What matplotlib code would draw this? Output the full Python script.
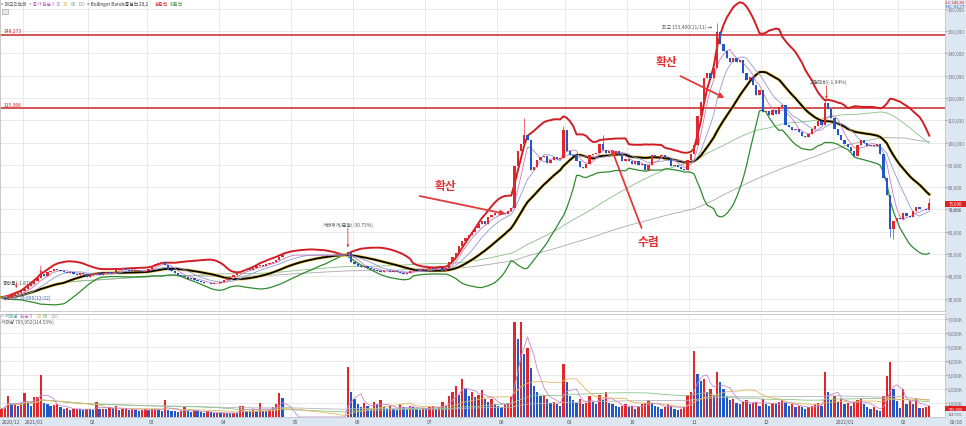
import numpy as np
import pandas as pd
import matplotlib
matplotlib.use('Agg')
import matplotlib.pyplot as plt
from matplotlib.patches import Rectangle

plt.rcParams['font.family'] = ['Noto Sans CJK KR', 'DejaVu Sans']

# ---- values (daily, 2020/12/21 .. 2022/02/16) ----
month_labels = ['2020/12', '2021/01', '02', '03', '04', '05', '06', '07',
                '08', '09', '10', '11', '12', '2022/01', '02']
month_days = [7, 20, 18, 22, 22, 19, 22, 22, 21, 19, 19, 22, 22, 20, 10]

close_2012 = [30600, 30000, 30900, 31500, 32000, 32600, 33200]
close_2101 = [34500, 35800, 36500, 38000, 39200, 41000, 40200, 41800, 42400, 43500,
              43000, 42300, 42000, 41500, 41800, 41200, 40800, 41300, 41000, 39700]
close_2102 = [40500, 41000, 41300, 40800, 41500, 41800, 41500, 42000, 42800, 43300,
              43600, 43000, 42600, 42400, 42800, 42200, 42000, 42500]
close_2103 = [43500, 44800, 45500, 45800, 46400, 45000, 43000, 42400, 41500, 40500, 40000,
              39500, 38800, 39200, 38500, 38000, 37500, 37000, 36800, 36500, 37200, 36800]
close_2104 = [37500, 38500, 39200, 39700, 40500, 41500, 42000, 42800, 43300, 43000, 43800,
              44500, 45200, 44800, 45500, 46000, 46500, 47500, 48500, 49500, 49500, 49500]
close_2105 = [49500] * 17 + [51000, 46500]
close_2106 = [45500, 44800, 44000, 44500, 43800, 43300, 43000, 42500, 41800, 42300, 42200,
              42000, 42400, 41800, 41300, 41000, 41600, 42500, 43000, 42800, 43200, 43000]
close_2107 = [43300, 43800, 43200, 43600, 43900, 42500, 43800, 46500, 48500, 50500, 53500,
              56000, 57000, 58500, 60000, 61500, 63500, 65000, 63500, 66500, 67500, 68500]
close_2108 = [69000, 68500, 68000, 69500, 70500, 89500, 96000, 99500, 103500, 101000, 87500,
              89000, 92000, 93500, 94000, 91000, 92000, 93500, 92500, 93000, 105500]
close_2109 = [96000, 94500, 94000, 91500, 89000, 88500, 90500, 94500, 95000, 95500,
              99500, 96500, 95500, 96000, 95000, 96000, 94500, 91500, 92500]
close_2110 = [91500, 90500, 91500, 90000, 90500, 87500, 90000, 94500, 93500, 93800,
              94500, 93000, 93200, 89500, 89800, 89000, 88200, 87500, 92000]
close_2111 = [95000, 99000, 112000, 118000, 129000, 131000, 129000, 133500, 149500, 144000, 141000,
              138000, 136000, 138000, 136000, 137000, 131000, 128000, 129500, 126000, 121500, 123500]
close_2112 = [113500, 114000, 112500, 114500, 113000, 116000, 117000, 108000, 107000, 105500, 106000,
              104500, 103000, 102500, 104000, 106000, 107500, 109500, 108000, 117500, 115000, 111000]
close_2201 = [106000, 103500, 101000, 99500, 98000, 96000, 94000, 99000, 101000, 100000,
              98500, 99000, 98500, 99500, 95000, 84000, 76500, 61000, 65000, 66000]
close_2202 = [65500, 68500, 67000, 66500, 69500, 71000, 70000, 70200, 69800, 73000]
first_open = 30900

# volume in thousands of shares
vol_2012 = [600, 700, 1500, 900, 950, 800, 1000]
vol_2101 = [1700, 1100, 800, 1400, 1450, 3000, 1000, 900, 800, 850,
            900, 700, 600, 650, 500, 550, 600, 550, 500, 600]
vol_2102 = [550, 500, 1100, 600, 600, 550, 700, 650, 750, 500,
            550, 600, 500, 550, 500, 450, 500, 550]
vol_2103 = [500, 550, 600, 500, 450, 1200, 500, 450, 400, 350, 450,
            700, 400, 350, 450, 400, 350, 300, 400, 350, 300, 300]
vol_2104 = [250, 300, 280, 250, 300, 280, 800, 800, 450, 400, 500,
            450, 1000, 450, 400, 500, 700, 900, 1700, 1350, 0, 0]
vol_2105 = [0] * 17 + [3600, 1800]
vol_2106 = [1300, 900, 700, 1000, 800, 600, 1100, 900, 1200, 700, 600,
            800, 600, 500, 900, 700, 600, 800, 700, 600, 500, 650]
vol_2107 = [600, 700, 800, 600, 700, 1100, 800, 1500, 1800, 2200, 1600,
            2700, 2000, 1500, 1800, 1400, 1600, 1900, 1300, 1100, 1300, 900]
vol_2108 = [800, 700, 900, 1000, 1400, 6800, 5600, 6800, 4500, 4900, 3500,
            2200, 1800, 1500, 1600, 1300, 1000, 1100, 900, 800, 3800]
vol_2109 = [2500, 1500, 1200, 1000, 1300, 900, 1000, 1500, 1100, 900,
            1600, 1200, 1800, 1000, 900, 800, 700, 800, 900]
vol_2110 = [700, 800, 600, 700, 900, 1000, 1200, 1000, 800, 700,
            600, 700, 900, 800, 600, 500, 600, 700, 1600]
vol_2111 = [1800, 4700, 3100, 2600, 2700, 1800, 2000, 1600, 3200, 2500, 2000,
            1500, 1200, 1300, 1000, 900, 1100, 1200, 900, 1000, 1100, 800]
vol_2112 = [1300, 900, 800, 1000, 900, 1100, 1200, 1000, 800, 900, 700,
            800, 700, 600, 700, 800, 900, 1000, 800, 3200, 1800, 1200]
vol_2201 = [1500, 1100, 1300, 900, 1000, 800, 1100, 1200, 1300, 900,
            700, 600, 700, 500, 400, 1500, 2900, 3900, 2000, 1150]
vol_2202 = [650, 2000, 900, 1150, 900, 1350, 650, 650, 700, 796]

halt_first, halt_last = 87, 105          # trading suspension (no candles)
wick_high = {160: 111000, 172: 107500, 184: 103500, 219: 153400, 252: 119000, 284: 75000}
wick_low = {1: 29600, 272: 57600, 273: 56800}

limit_levels = [148273, 115366]

# ---- assemble ----
close = np.array(close_2012 + close_2101 + close_2102 + close_2103 + close_2104 + close_2105 +
                 close_2106 + close_2107 + close_2108 + close_2109 + close_2110 + close_2111 +
                 close_2112 + close_2201 + close_2202, dtype=float)
volume = np.array(vol_2012 + vol_2101 + vol_2102 + vol_2103 + vol_2104 + vol_2105 +
                  vol_2106 + vol_2107 + vol_2108 + vol_2109 + vol_2110 + vol_2111 +
                  vol_2112 + vol_2201 + vol_2202, dtype=float) * 1000
n = len(close)
x = np.arange(n)
opn = np.concatenate([[first_open], close[:-1]])
high = np.maximum(opn, close)
low = np.minimum(opn, close)
for k, v in wick_high.items():
    high[k] = v
for k, v in wick_low.items():
    low[k] = v
traded = (x < halt_first) | (x > halt_last)

s = pd.Series(close)
ma = {w: s.rolling(w, min_periods=1).mean() for w in (5, 10, 20, 60, 120)}
sd = s.rolling(20, min_periods=2).std(ddof=0).fillna(0)
bb_up = ma[20] + 2 * sd
bb_dn = ma[20] - 2 * sd
vs = pd.Series(volume)
vma = {w: vs.rolling(w, min_periods=1).mean() for w in (5, 20, 60, 120)}

month_start = np.cumsum([0] + month_days[:-1])

RED, BLUE = '#e3262b', '#2158c9'
PANEL = '#dde7f2'

# ---- figure ----
W, H = 966, 427
fig = plt.figure(figsize=(W / 100, H / 100), dpi=100)
fig.patch.set_facecolor('white')
ax_p = fig.add_axes([0, 1 - 312 / H, 945 / W, 312 / H])
ax_v = fig.add_axes([0, 1 - 418 / H, 945 / W, 103 / H])

fig.patches.append(Rectangle((945 / W, 0), 21 / W, 1, transform=fig.transFigure,
                             facecolor=PANEL, edgecolor='none', zorder=-5))
fig.patches.append(Rectangle((0, 0), 1, 9 / H, transform=fig.transFigure,
                             facecolor=PANEL, edgecolor='none', zorder=-5))

for ax in (ax_p, ax_v):
    ax.set_xlim(-0.15, 288.8)
    ax.set_xticks(month_start - 0.5)
    ax.tick_params(axis='x', length=0, labelbottom=False)
    ax.grid(True, color='#e6e6e6', lw=0.6)
    ax.set_axisbelow(True)
    ax.yaxis.tick_right()
    ax.tick_params(axis='y', labelsize=3.4, colors='#777777', length=1.5, pad=0.6, width=0.5)
    for sp in ax.spines.values():
        sp.set_color('#c4c4c4')
        sp.set_linewidth(0.6)

# price panel
ax_p.set_ylim(24448, 164349)
yt = np.arange(30000, 160001, 10000)
ax_p.set_yticks(yt)
ax_p.set_yticklabels([f'{v:,}' for v in yt])

for lv in limit_levels:
    ax_p.axhline(lv, color='#c8262a', lw=1.1, zorder=2)
    ax_p.text(0.5, lv + 700, f'{lv:,}', fontsize=3.6, color='#c8262a', va='bottom', ha='left')

ax_p.plot(x, ma[120], color='#a9a9a9', lw=0.6, zorder=3)
ax_p.plot(x, ma[60], color='#86c186', lw=0.6, zorder=3)
ax_p.plot(x, bb_dn, color='#2f8a2f', lw=0.9, zorder=3)
ax_p.plot(x, bb_up, color='#cf1f24', lw=1.4, zorder=3)
ax_p.plot(x, ma[20], color='#e8c540', lw=2.2, zorder=3)
ax_p.plot(x, ma[20], color='black', lw=1.3, zorder=3)
ax_p.plot(x, ma[10], color='#8d9ad0', lw=0.6, zorder=4)
ax_p.plot(x, ma[5], color='#c77ac0', lw=0.6, zorder=4)

up = close >= opn
cols = np.where(up, RED, BLUE)
xi = x[traded]
ax_p.vlines(xi, low[traded], high[traded], colors=cols[traded], lw=0.5, zorder=5)
body = np.maximum(np.abs(close - opn), 300)
ax_p.bar(xi, body[traded], bottom=np.minimum(opn, close)[traded], width=0.7,
         color=cols[traded], linewidth=0, zorder=6)

# annotations
akw = dict(arrowstyle='-|>', color='#e23a3a', lw=1.3, mutation_scale=7, shrinkA=0, shrinkB=0)
ax_p.annotate('', xy=(154.3, 68000), xytext=(128, 76000), arrowprops=akw, zorder=8)
ax_p.text(136, 80500, '확산', fontsize=8.5, color='#e03030', fontweight='bold', ha='center', va='center')
ax_p.annotate('', xy=(221.3, 120000), xytext=(207.8, 129800), arrowprops=akw, zorder=8)
ax_p.text(203.5, 136500, '확산', fontsize=8.5, color='#e03030', fontweight='bold', ha='center', va='center')
ax_p.annotate('', xy=(186.7, 97100), xytext=(195.9, 61700), arrowprops=akw, zorder=8)
ax_p.text(198, 55400, '수렴', fontsize=8.5, color='#e03030', fontweight='bold', ha='center', va='center')

skw = dict(arrowstyle='-|>', color='#e23a3a', lw=0.6, mutation_scale=3, shrinkA=0, shrinkB=0)
ax_p.text(217.6, 152200, '최고 153,400(11/11) →', fontsize=3.5, color='#555555', ha='right', va='center')
ax_p.text(0.5, 30600, '← 최저 29,600(12/22)', fontsize=3.5, color='#3a55a5', ha='left', va='center')
ax_p.text(0.3, 37400, '등락률(-1.87%)', fontsize=3.5, color='#555555', ha='left', va='center')
ax_p.annotate('', xy=(4.5, 34700), xytext=(4.5, 37000), arrowprops=skw)
ax_p.annotate('', xy=(12, 41200), xytext=(12, 44600), arrowprops=skw)
ax_p.text(106, 63500, '거래재개/분할(-30.75%)', fontsize=3.5, color='#555555', ha='center', va='center')
ax_p.annotate('', xy=(106, 53000), xytext=(106, 61500), arrowprops=skw)
ax_p.text(253, 127300, '고점대비(-1.94%)', fontsize=3.5, color='#555555', ha='center', va='center')
ax_p.annotate('', xy=(252.5, 119500), xytext=(252.5, 125300), arrowprops=skw)

# volume panel
ax_v.set_ylim(0, 7.357e6)
vt = np.arange(1e6, 7.01e6, 1e6)
ax_v.set_yticks(vt)
ax_v.set_yticklabels([f'{int(v / 1000):,}K' for v in vt])
vup = np.concatenate([[True], volume[1:] >= volume[:-1]])
ax_v.bar(x, volume, width=0.7, color=np.where(vup, RED, BLUE), linewidth=0, zorder=3)
ax_v.plot(x, vma[120], color='#b5b5b5', lw=0.6, zorder=4)
ax_v.plot(x, vma[60], color='#8cc48c', lw=0.6, zorder=4)
ax_v.plot(x, vma[20], color='#e2b85a', lw=0.6, zorder=4)
ax_v.plot(x, vma[5], color='#c48ad0', lw=0.6, zorder=4)

# header legends
def htext(px, py, s, c):
    fig.text(px / W, 1 - py / H, s, fontsize=3.4, color=c, ha='left', va='center')

htext(1, 4, '= 메모리트레', '#555555')
htext(29, 4, '= 종가 단순', '#b05cb0')
htext(52, 4, '5', '#d070c0')
htext(56, 4, '10', '#7f8fd0')
htext(63, 4, '20', '#e0b040')
htext(71, 4, '60', '#70b070')
htext(78, 4, '120', '#a0a0a0')
htext(87, 4, '= Bollinger Bands중심선 20,2', '#333333')
htext(155, 4, '상한선', '#d02020')
htext(170, 4, '하한선', '#2f8a2f')
htext(1, 317, '= 거래량', '#4a9a9a')
htext(20, 317, '단순 5', '#c070c0')
htext(37, 317, '20', '#e0b040')
htext(43, 317, '60', '#70b070')
htext(51, 317, '120', '#a0a0a0')
htext(1, 322, '거래량 795,952(114.53%)', '#555555')

fig.patches.append(Rectangle((2 / W, 1 - 15 / H), 6 / W, 5 / H, transform=fig.transFigure,
                             facecolor='#e8e8e8', edgecolor='#999999', lw=0.4))

# right side tags
fig.text(946 / W, 1 - 2.5 / H, 'LC 146,69', fontsize=3.0, color='#d02020', ha='left', va='center')
fig.text(946 / W, 1 - 6.5 / H, 'HC -52,77', fontsize=3.0, color='#2050c0', ha='left', va='center')
fig.patches.append(Rectangle((945 / W, 1 - 208 / H), 21 / W, 6 / H, transform=fig.transFigure,
                             facecolor='#e02020', edgecolor='none'))
fig.text(955.5 / W, 1 - 205 / H, f'{int(close[-1]):,}', fontsize=3.2, color='white', ha='center', va='center')
fig.text(955.5 / W, 1 - 211.5 / H, '5.71%', fontsize=2.9, color='#555555', ha='center', va='center')
fig.patches.append(Rectangle((945 / W, 1 - 412 / H), 21 / W, 5.5 / H, transform=fig.transFigure,
                             facecolor='#e02020', edgecolor='none'))
fig.text(955.5 / W, 1 - 409.3 / H, f'{int(volume[-1]):,}', fontsize=2.8, color='white', ha='center', va='center')
fig.text(955.5 / W, 1 - 415.2 / H, '114.53%', fontsize=2.7, color='#555555', ha='center', va='center')

# month labels in the bottom strip
for m, lab in zip(month_start, month_labels):
    px = 0.5 + 3.27 * m
    fig.text((px + 1) / W, 4.5 / H, lab, fontsize=3.6, color='#555555', ha='left', va='center')
fig.text(950 / W, 4.5 / H, '02/16', fontsize=3.6, color='#555555', ha='left', va='center')

fig.savefig('out.png', dpi=100)
